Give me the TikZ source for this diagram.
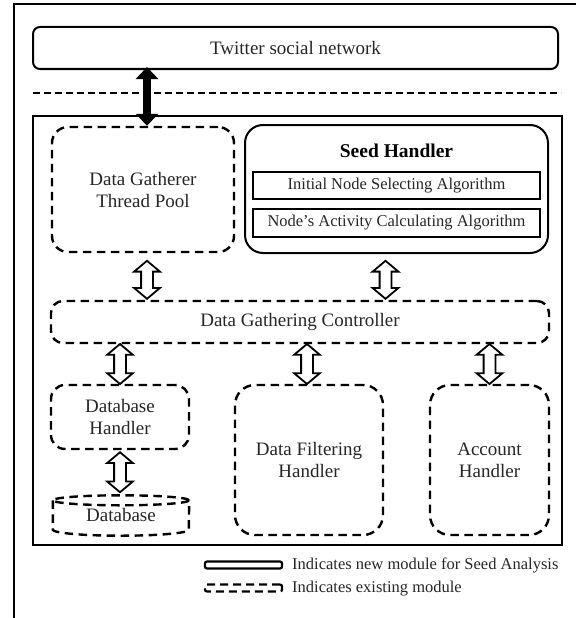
\documentclass[tikz,border=0pt]{standalone}
\usepackage{fontspec}
\setmainfont{Liberation Serif}
\usetikzlibrary{arrows.meta,shapes.arrows,shapes.geometric,calc}
\begin{document}
\begin{tikzpicture}[x=1pt,y=-1pt,
  txt/.style={font=\fontsize{19}{22}\selectfont, align=center, text=black!85},
  smalltxt/.style={font=\fontsize{16.5}{19}\selectfont, text=black!85},
  newbox/.style={draw, line width=2pt, rounded corners=7pt},
  oldbox/.style={draw, line width=2.4pt, dash pattern=on 8.5pt off 5.5pt, rounded corners=16pt},
  algbox/.style={draw, line width=2pt, smalltxt, inner sep=0pt},
  harrow/.style={double arrow, draw, line width=1.8pt, fill=white, rotate=90,
    inner xsep=0pt, inner ysep=5pt,
    minimum width=25pt, double arrow head extend=7pt, double arrow tip angle=100},
  blackarrow/.style={line width=8pt, {Triangle[length=12pt,width=22pt]}-{Triangle[length=12pt,width=22pt]}},
]
\useasboundingbox (0,0) rectangle (576,618);
% frame
\draw[line width=2.5pt] (14,618) -- (14,4) -- (576,4);

% Twitter
\node[newbox, txt, minimum width=525pt, minimum height=42pt] (twitter) at (295.5,48) {Twitter social network};
% separator
\draw[line width=2.6pt, dash pattern=on 7pt off 4pt] (33,93) -- (561,93);

% main box
\node[draw, line width=2.2pt, minimum width=529pt, minimum height=429pt, inner sep=0pt] (main) at (297.5,330.5) {};

% Data gatherer thread pool
\node[oldbox, txt, minimum width=182pt, minimum height=125pt] (dgtp) at (143,189.5) {Data Gatherer\\Thread Pool};

% Seed handler
\node[draw, line width=2pt, rounded corners=18pt, minimum width=303pt, minimum height=128pt] (seed) at (396.5,189) {};
\node[txt, font=\fontsize{19.5}{22}\selectfont\bfseries, text=black] (seedlbl) at (396.5,151) {Seed Handler};
\node[algbox, minimum width=287pt, minimum height=27pt] (alg1) at (396.5,185.5) {Initial Node Selecting Algorithm};
\node[algbox, minimum width=287pt, minimum height=28pt] (alg2) at (396.5,223) {Node's Activity Calculating Algorithm};

% controller
\node[oldbox, txt, minimum width=498pt, minimum height=42pt, rounded corners=12pt] (dgc) at (300,322) {Data Gathering Controller};

% lower modules
\node[oldbox, txt, minimum width=138pt, minimum height=64pt, rounded corners=14pt] (dbh) at (120,417) {Database\\Handler};
\node[oldbox, txt, minimum width=148pt, minimum height=150pt, rounded corners=20pt] (dfh) at (309,460) {Data Filtering\\Handler};
\node[oldbox, txt, minimum width=119pt, minimum height=150pt, rounded corners=20pt] (acc) at (489.5,460) {Account\\Handler};

% database cylinder
\node[txt, minimum width=136pt, minimum height=41pt, inner sep=0pt] (db) at (121,515) {Database};
\draw[line width=2.4pt, dash pattern=on 8.5pt off 5.5pt]
  ($(db.north)+(0,6)$) ellipse [x radius=68, y radius=5];
\draw[line width=2.4pt, dash pattern=on 8.5pt off 5.5pt]
  ($(db.north west)+(0,6)$) -- ($(db.south west)+(0,-6)$)
  arc[start angle=180, end angle=0, x radius=68, y radius=6]
  -- ($(db.north east)+(0,6)$);

% black arrow
\draw[blackarrow] ([xshift=4pt,yshift=3pt]twitter.south -| dgtp.north) -- ([xshift=4pt]dgtp.north);

% hollow arrows
\node[harrow, minimum height=38pt] (a1) at ($([xshift=4pt]dgtp.south |- dgc.north)+(0,-20)$) {};
\node[harrow, minimum height=38pt] (a2) at ($([xshift=-11pt]seed.south |- dgc.north)+(0,-20)$) {};
\node[harrow, minimum height=40pt] (a3) at ($(dbh.north)!0.5!(dbh.north |- dgc.south)$) {};
\node[harrow, minimum height=40pt] (a4) at ($([xshift=-2pt]dfh.north)!0.5!([xshift=-2pt]dfh.north |- dgc.south)$) {};
\node[harrow, minimum height=40pt] (a5) at ($(acc.north)!0.5!(acc.north |- dgc.south)$) {};
\node[harrow, minimum height=40pt] (a6) at ($(dbh.south)!0.5!(dbh.south |- db.north)$) {};

% legend
\node[draw, line width=2.2pt, rounded corners=2pt, minimum width=77pt, minimum height=7pt, inner sep=0pt] (leg1) at (243.5,565) {};
\node[smalltxt, anchor=west, inner sep=0pt] (leg1t) at (292,565) {Indicates new module for Seed Analysis};
\node[draw, line width=2.2pt, dash pattern=on 8pt off 5pt, rounded corners=2pt, minimum width=77pt, minimum height=7pt, inner sep=0pt] (leg2) at (243.5,588) {};
\node[smalltxt, anchor=west, inner sep=0pt] (leg2t) at (292,589) {Indicates existing module};
\end{tikzpicture}
\end{document}
